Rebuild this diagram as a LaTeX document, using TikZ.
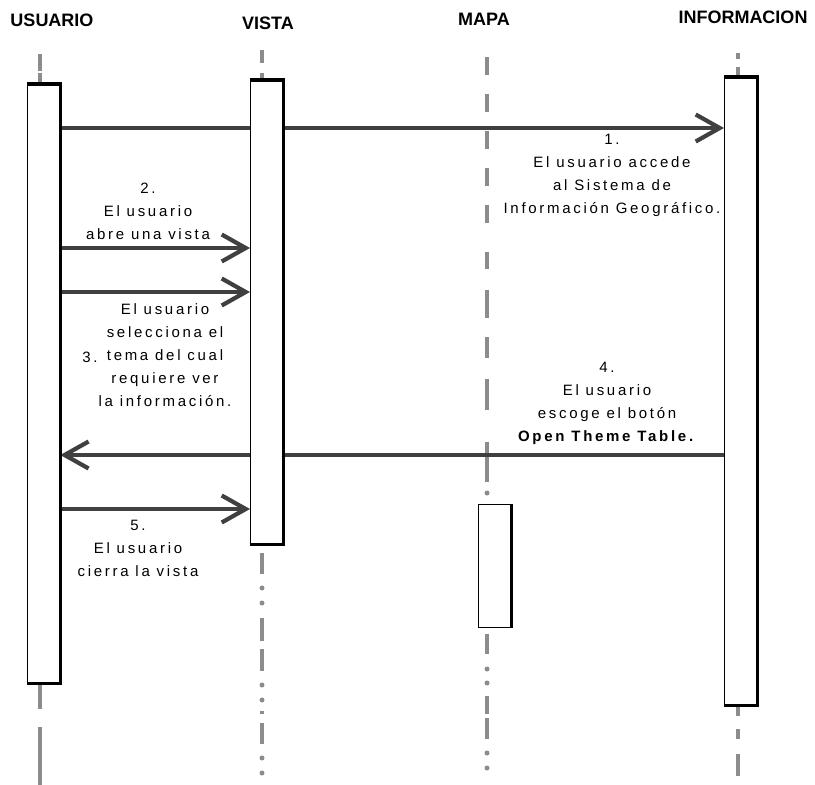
\documentclass[tikz,border=0pt]{standalone}
\usepackage{fontspec}
\setmainfont{Liberation Sans}
\newfontfamily\lblfont[LetterSpace=18]{Liberation Sans}
\usetikzlibrary{arrows.meta}
\definecolor{msggray}{RGB}{64,64,64}
\definecolor{lifegray}{RGB}{140,140,140}
\begin{document}
\begin{tikzpicture}[x=1pt,y=-1pt,
  head/.style={font=\bfseries\fontsize{18}{18}\selectfont, inner sep=0pt},
  lbl/.style={font=\lblfont\fontsize{15}{23}\selectfont, align=center, inner sep=0pt},
  actbox/.style={draw=black, line width=1.3pt, fill=white, inner sep=0pt, anchor=north west},
  edge/.style={draw=black, line width=3.5pt, line join=miter},
  life/.style={draw=lifegray, line width=4.5pt},
  lifedot/.style={fill=lifegray, circle, inner sep=0pt, minimum size=5pt},
  msg/.style={draw=msggray, line width=4.2pt, -{Straight Barb[length=24pt, width=27pt, line width=4.2pt]}}]
\fill[white] (0,0) rectangle (815,785);
\useasboundingbox (0,0) rectangle (815,785);

% lifeline axes
\coordinate (ux) at (40,0);
\coordinate (vx) at (262,0);
\coordinate (mx) at (487,0);
\coordinate (ix) at (738,0);

% lifelines above the bars
\draw[life] (ux |- 0,54) -- (ux |- 0,71) (ux |- 0,73) -- (ux |- 0,84);
\draw[life] (vx |- 0,50) -- (vx |- 0,63) (vx |- 0,73) -- (vx |- 0,80);
\draw[life, dash pattern=on 18pt off 19pt] (mx |- 0,57) -- (mx |- 0,229);
\draw[life] (mx |- 0,252) -- (mx |- 0,269) (mx |- 0,290) -- (mx |- 0,318)
            (mx |- 0,337) -- (mx |- 0,358) (mx |- 0,379) -- (mx |- 0,410);
\draw[life] (ix |- 0,53) -- (ix |- 0,59) (ix |- 0,67) -- (ix |- 0,77);

% message rows
\coordinate (m1) at (0,128);
\coordinate (m2) at (0,248);
\coordinate (m3) at (0,292);
\coordinate (m4) at (0,455);
\coordinate (m5) at (0,509);

% activation bars
\node[actbox, minimum width=32pt, minimum height=598pt] (bu) at (27,84) {};
\node[actbox, minimum width=32pt, minimum height=463pt] (bv) at (250,80) {};
\node[actbox, minimum width=32pt, minimum height=627pt] (bi) at (724,77) {};
\node[actbox, minimum width=32pt, minimum height=123pt] (bm) at (478,504) {};

% lifelines below and between the bars
\draw[life] (bm.north -| mx) ++(0,-62) -- ++(0,40);
\node[lifedot] at (mx |- 0,493) {};
\draw[life] (bu.south -| ux) -- ++(0,26) ++(0,18) -- (ux |- 0,785);
\draw[life] (bv.south -| vx) ++(0,9) -- ++(0,21) ++(0,44) -- ++(0,23) ++(0,8) -- ++(0,22)
            ++(0,40) -- ++(0,3) ++(0,9) -- ++(0,21);
\foreach \y in {588, 603, 685, 700, 758, 773}
  \node[lifedot] at (vx |- 0,\y) {};
\draw[life] (bm.south -| mx) ++(0,6) -- ++(0,20) ++(0,42) -- ++(0,18) ++(0,4) -- ++(0,21);
\foreach \y in {669, 683, 753, 768}
  \node[lifedot] at (mx |- 0,\y) {};
\draw[life] (bi.south -| ix) ++(0,1) -- ++(0,10) ++(0,13) -- ++(0,10) ++(0,15) -- ++(0,22);

% messages
\draw[msg] (bu.east |- m1) -- (bi.west |- m1);
\draw[msg] (bu.east |- m2) -- (bv.west |- m2);
\draw[msg] (bu.east |- m3) -- (bv.west |- m3);
\draw[msg] (bi.west |- m4) -- (bu.east |- m4);
\draw[msg] (bu.east |- m5) -- (bv.west |- m5);

% bars drawn again on top of the message lines
\node[actbox, minimum width=32pt, minimum height=598pt] at (bu.north west) {};
\node[actbox, minimum width=32pt, minimum height=463pt] at (bv.north west) {};
\node[actbox, minimum width=32pt, minimum height=627pt] at (bi.north west) {};

% heavy edges of the activation bars
\draw[edge] (bu.north west) -- (bu.north east) -- (bu.south east) -- (bu.south west);
\draw[edge] (bv.north west) -- (bv.north east) -- (bv.south east) -- (bv.south west);
\draw[edge] (bi.north west) -- (bi.north east) -- (bi.south east) -- (bi.south west);
\draw[edge] (bm.north east) -- (bm.south east);

% column headings
\node[head] (hu) at (52,20) {USUARIO};
\node[head] (hv) at (268,23) {VISTA};
\node[head] (hm) at (484,19) {MAPA};
\node[head] (hi) at (743,17) {INFORMACION};

% message labels
\node[lbl] (t1) at (612,175) {1.\\El usuario accede\\al Sistema de\\Información Geográfico.};
\node[lbl] (t2) at (148,211) {2.\\El usuario\\abre una vista};
\node[lbl] (t3) at (165,355) {El usuario\\selecciona el\\tema del cual\\requiere ver\\la información.};
\node[lbl] (n3) at (90,357) {3.};
\node[lbl] (t4) at (607,403) {4.\\El usuario\\escoge el botón\\\textbf{Open Theme Table.}};
\node[lbl] (t5) at (138,548) {5.\\El usuario\\cierra la vista};
\end{tikzpicture}
\end{document}
